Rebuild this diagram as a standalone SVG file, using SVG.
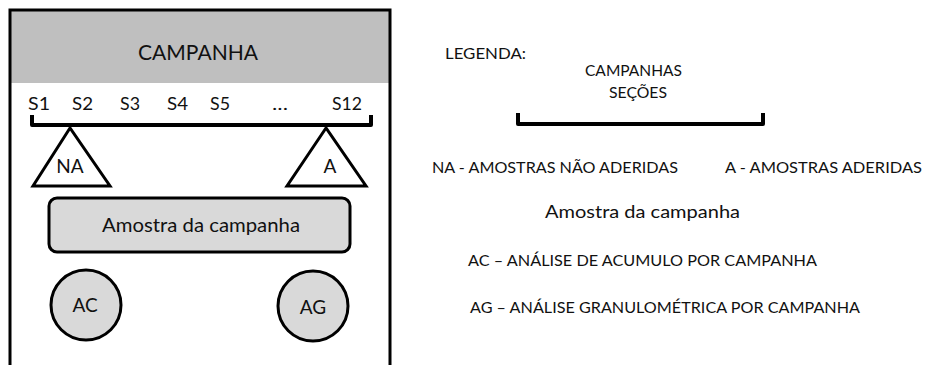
<svg xmlns="http://www.w3.org/2000/svg" width="932" height="365" viewBox="0 0 932 365">
<style>
text{font-family:Lato,"Open Sans","Liberation Sans",sans-serif;fill:#111;}
.c{text-anchor:middle;}
.br{fill:none;stroke:#000;stroke-width:4;stroke-linejoin:round;}
.sh{stroke:#000;stroke-width:3;}
</style>
<rect width="932" height="365" fill="#fff"/>
<g id="campanha">
<rect x="10" y="10" width="380" height="73" fill="#bfbfbf"/>
<path d="M10 367V10H390V367" fill="none" stroke="#000" stroke-width="3"/>
<text x="198" y="60" class="c" font-size="22" textLength="120" lengthAdjust="spacingAndGlyphs">CAMPANHA</text>
</g>
<g id="secoes">
<text x="28" y="110" font-size="18" textLength="22" lengthAdjust="spacingAndGlyphs">S1</text>
<text x="72" y="110" font-size="18" textLength="21" lengthAdjust="spacingAndGlyphs">S2</text>
<text x="120" y="110" font-size="18" textLength="20" lengthAdjust="spacingAndGlyphs">S3</text>
<text x="167" y="110" font-size="18" textLength="21" lengthAdjust="spacingAndGlyphs">S4</text>
<text x="210" y="110" font-size="18" textLength="20" lengthAdjust="spacingAndGlyphs">S5</text>
<text x="272" y="110" font-size="18" textLength="16" lengthAdjust="spacingAndGlyphs">...</text>
<text x="332" y="110" font-size="18" textLength="30" lengthAdjust="spacingAndGlyphs">S12</text>
</g>
<g id="connectors">
<path class="br" d="M32 115V125H371V115"/>
</g>
<g id="na">
<polygon points="70,128 33,186 110,186" fill="#fff" class="sh"/>
<text x="70" y="173" class="c" font-size="19">NA</text>
</g>
<g id="a">
<polygon points="326,128 287,186 366,186" fill="#fff" class="sh"/>
<text x="330" y="173" class="c" font-size="19">A</text>
</g>
<g id="amostra">
<rect x="49" y="198" width="301" height="54" rx="8" fill="#d9d9d9" class="sh"/>
<text x="201" y="232" class="c" font-size="20" textLength="198" lengthAdjust="spacingAndGlyphs">Amostra da campanha</text>
</g>
<g id="ac">
<circle cx="86" cy="305" r="35" fill="#d9d9d9" class="sh"/>
<text x="85" y="312" class="c" font-size="19">AC</text>
</g>
<g id="ag">
<circle cx="313" cy="306" r="35" fill="#d9d9d9" class="sh"/>
<text x="313" y="314" class="c" font-size="19">AG</text>
</g>
<g id="legenda">
<text x="445" y="59" font-size="15" textLength="81" lengthAdjust="spacingAndGlyphs">LEGENDA:</text>
<text x="585" y="76" font-size="15" textLength="97" lengthAdjust="spacingAndGlyphs">CAMPANHAS</text>
<text x="609" y="98" font-size="15" textLength="58" lengthAdjust="spacingAndGlyphs">SEÇÕES</text>
<path class="br" d="M518 113V124H763V113"/>
<text x="432" y="173" font-size="15" textLength="246" lengthAdjust="spacingAndGlyphs">NA - AMOSTRAS NÃO ADERIDAS</text>
<text x="725" y="173" font-size="15" textLength="197" lengthAdjust="spacingAndGlyphs">A - AMOSTRAS ADERIDAS</text>
<text x="545" y="218" font-size="18" textLength="195" lengthAdjust="spacingAndGlyphs">Amostra da campanha</text>
<text x="468" y="266" font-size="15" textLength="349" lengthAdjust="spacingAndGlyphs">AC – ANÁLISE DE ACUMULO POR CAMPANHA</text>
<text x="470" y="313" font-size="15" textLength="390" lengthAdjust="spacingAndGlyphs">AG – ANÁLISE GRANULOMÉTRICA POR CAMPANHA</text>
</g>
</svg>
